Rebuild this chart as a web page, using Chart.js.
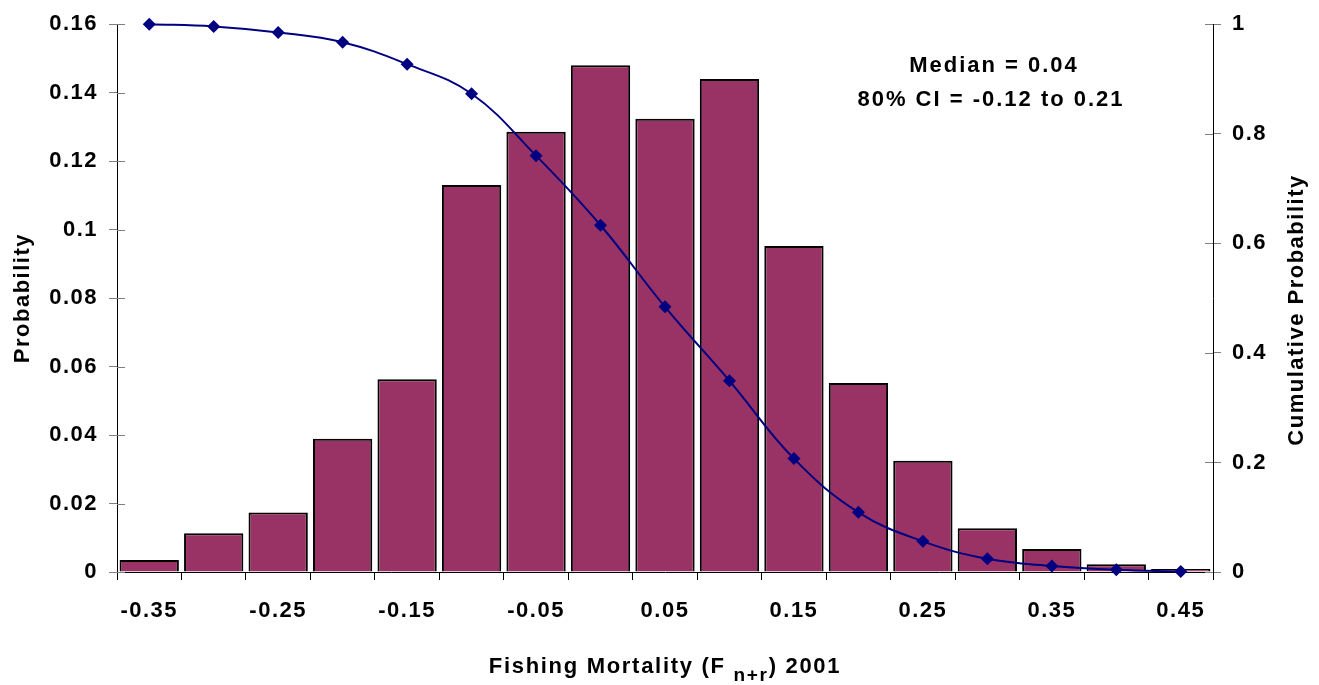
<!DOCTYPE html>
<html>
<head>
<meta charset="utf-8">
<script src="https://cdn.jsdelivr.net/npm/chart.js@4"></script>
<style>
  html, body { margin: 0; padding: 0; background: #fff; }
  canvas { display: block; }
</style>
</head>
<body>
<canvas id="probChart" width="1319" height="685"></canvas>
<script>
// Fishing mortality bins (bar categories)
const categories = ['-0.35', '-0.30', '-0.25', '-0.20', '-0.15', '-0.10', '-0.05', '0.00',
    '0.05', '0.10', '0.15', '0.20', '0.25', '0.30', '0.35', '0.40', '0.45'];

// Probability per bin (left axis)
const probability = [0.0035, 0.0113, 0.0174, 0.0389, 0.0563, 0.113, 0.1286, 0.148,
    0.1324, 0.144, 0.0952, 0.0552, 0.0325, 0.0128, 0.0067, 0.0023, 0.0009];

// Cumulative probability (right axis)
const cumulative = [1.0, 0.996, 0.985, 0.967, 0.927, 0.873, 0.760, 0.633,
    0.484, 0.349, 0.207, 0.109, 0.056, 0.024, 0.011, 0.004, 0.001];

const noteLines = ['Median = 0.04', '80% CI = -0.12 to 0.21'];

const FONT = "'Liberation Sans', Arial, sans-serif";

// Excel-style text is a bit spaced out
const spacingPlugin = {
    id: 'spacing',
    beforeDraw(chart) {
        chart.ctx.letterSpacing = '1.5px';
    },
    // y tick marks cross the axis line: add the inner half
    beforeDatasetsDraw(chart) {
        const ctx = chart.ctx;
        ctx.save();
        ctx.strokeStyle = '#808080';
        ctx.lineWidth = 1;
        [['y', 1], ['y1', -1]].forEach(([id, dir]) => {
            const s = chart.scales[id];
            const x0 = id === 'y' ? s.right : s.left;
            s.ticks.forEach(t => {
                const y = Math.round(s.getPixelForValue(t.value)) + 0.5;
                ctx.beginPath();
                ctx.moveTo(x0, y);
                ctx.lineTo(x0 + dir * 8, y);
                ctx.stroke();
            });
        });
        ctx.restore();
    }
};

// Extra text: annotation, right title, x title with subscript
const textPlugin = {
    id: 'textPlugin',
    afterDraw(chart) {
        const ctx = chart.ctx;
        ctx.save();
        ctx.fillStyle = '#000';
        ctx.textBaseline = 'alphabetic';

        // annotation
        ctx.letterSpacing = '2px';
        ctx.font = 'bold 22px ' + FONT;
        ctx.textAlign = 'center';
        ctx.fillText(noteLines[0], 994, 72);
        ctx.fillText(noteLines[1], 991, 106);

        // right axis title, reading upwards
        ctx.save();
        ctx.letterSpacing = '1.5px';
        ctx.translate(1297, 310);
        ctx.rotate(-Math.PI / 2);
        ctx.textBaseline = 'middle';
        ctx.fillText('Cumulative Probability', 0, 0);
        ctx.restore();

        // x axis title: Fishing Mortality (F n+r) 2001
        ctx.letterSpacing = '1.7px';
        const a = 'Fishing Mortality (F ';
        const sub = 'n+r';
        const b = ') 2001';
        ctx.textAlign = 'left';
        ctx.font = 'bold 22px ' + FONT;
        const wa = ctx.measureText(a).width;
        const wb = ctx.measureText(b).width;
        ctx.font = 'bold 19px ' + FONT;
        const ws = ctx.measureText(sub).width;
        const area = chart.chartArea;
        let x = (area.left + area.right) / 2 - (wa + ws + wb) / 2;
        ctx.font = 'bold 22px ' + FONT;
        ctx.fillText(a, x, 673);
        x += wa;
        ctx.font = 'bold 19px ' + FONT;
        ctx.fillText(sub, x, 681);
        x += ws;
        ctx.font = 'bold 22px ' + FONT;
        ctx.fillText(b, x, 673);
        ctx.restore();
    }
};

function fmt(v) {
    return Number(v.toFixed(2)).toString();
}

new Chart(document.getElementById('probChart'), {
    type: 'bar',
    data: {
        labels: categories,
        datasets: [
            {
                type: 'line',
                label: 'Cumulative',
                data: cumulative,
                yAxisID: 'y1',
                borderColor: '#000080',
                backgroundColor: '#000080',
                borderWidth: 2,
                tension: 0.4,
                pointStyle: 'rectRot',
                pointRadius: 6.5,
                pointBorderWidth: 0,
                fill: false,
                clip: false,
                order: 0
            },
            {
                label: 'Probability',
                data: probability,
                yAxisID: 'y',
                backgroundColor: '#993366',
                borderColor: '#000',
                borderWidth: 2,
                barPercentage: 0.92,
                categoryPercentage: 1.0,
                order: 1
            }
        ]
    },
    options: {
        responsive: false,
        animation: false,
        layout: { padding: { top: 21, right: 0, left: 0, bottom: 0 } },
        plugins: {
            legend: { display: false },
            tooltip: { enabled: false }
        },
        scales: {
            x: {
                offset: true,
                afterFit: s => { s.height = 113; },
                grid: {
                    offset: true,
                    drawOnChartArea: false,
                    drawTicks: true,
                    tickLength: 8,
                    tickColor: '#000'
                },
                border: { color: '#000', width: 1 },
                ticks: {
                    autoSkip: false,
                    maxRotation: 0,
                    padding: 18,
                    color: '#000',
                    font: { family: FONT, size: 22, weight: 'bold' },
                    callback: function(v, i) {
                        return i % 2 === 0 ? this.getLabelForValue(v) : '';
                    }
                }
            },
            y: {
                position: 'left',
                min: 0,
                max: 0.16,
                afterFit: s => { s.width = 117; },
                grid: {
                    drawOnChartArea: false,
                    tickLength: 8,
                    tickColor: '#808080'
                },
                border: { color: '#000', width: 1 },
                ticks: {
                    stepSize: 0.02,
                    padding: 11,
                    color: '#000',
                    font: { family: FONT, size: 22, weight: 'bold' },
                    callback: v => fmt(v)
                },
                title: {
                    display: true,
                    text: 'Probability',
                    color: '#000',
                    padding: { top: 10, bottom: 0 },
                    font: { family: FONT, size: 22, weight: 'bold' }
                }
            },
            y1: {
                position: 'right',
                min: 0,
                max: 1,
                afterFit: s => { s.width = 106; },
                grid: {
                    drawOnChartArea: false,
                    tickLength: 8,
                    tickColor: '#808080'
                },
                border: { color: '#000', width: 1 },
                ticks: {
                    stepSize: 0.2,
                    padding: 11,
                    color: '#000',
                    font: { family: FONT, size: 22, weight: 'bold' },
                    callback: v => fmt(v)
                }
            }
        }
    },
    plugins: [spacingPlugin, textPlugin]
});
</script>
</body>
</html>
